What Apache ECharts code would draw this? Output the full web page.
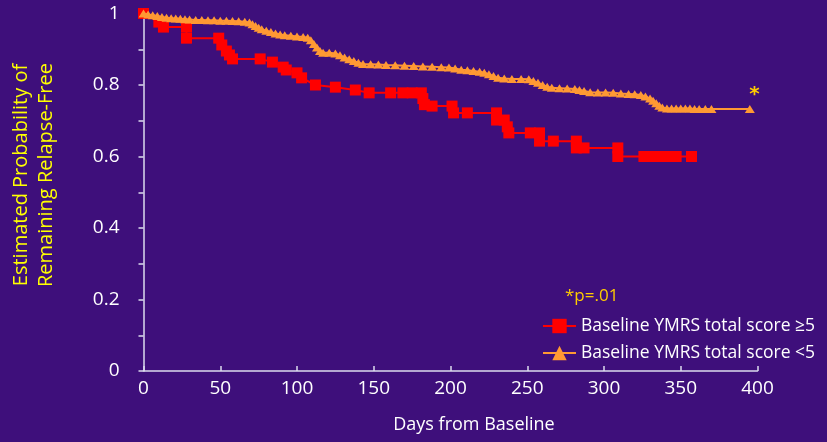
<!DOCTYPE html>
<html>
<head>
<meta charset="utf-8">
<title>Relapse-free probability by baseline YMRS score</title>
<script src="https://cdn.jsdelivr.net/npm/echarts@6/dist/echarts.min.js"></script>
<style>
  html, body { margin: 0; padding: 0; background: #3e0f7b; }
  #chart { width: 827px; height: 442px; }
</style>
</head>
<body>
<div id="chart"></div>
<script>
// Kaplan-Meier estimates, baseline YMRS total score >= 5
const highDays = [0, 10, 13, 28, 28, 49, 51, 54, 56, 58, 76, 84, 91, 93, 100, 103, 112, 125, 138, 147,
  161, 169, 175, 181, 182, 183, 188, 201, 202, 211, 230, 230, 235, 237, 238, 252, 258, 258, 267, 282,
  282, 287, 309, 309, 326, 329, 332, 335, 338, 341, 344, 347, 357];
const highSurv = [1, 0.976, 0.962, 0.962, 0.931, 0.931, 0.912, 0.895, 0.884, 0.873, 0.873, 0.864, 0.85, 0.842, 0.834, 0.82, 0.80, 0.794, 0.786, 0.778,
  0.778, 0.778, 0.778, 0.778, 0.762, 0.745, 0.741, 0.741, 0.722, 0.722, 0.722, 0.702, 0.702, 0.683, 0.666, 0.666, 0.666, 0.643, 0.643, 0.643,
  0.624, 0.624, 0.624, 0.6, 0.6, 0.6, 0.6, 0.6, 0.6, 0.6, 0.6, 0.6, 0.6];

// Kaplan-Meier estimates, baseline YMRS total score < 5
const lowDays = [0, 3, 6, 9, 12, 15, 18, 21, 24, 27, 30, 34, 38, 42, 46, 50, 54, 58, 62, 66,
  69, 71, 73, 75, 77, 80, 83, 86, 89, 92, 96, 100, 104, 107, 109, 111, 113, 115, 117, 121,
  125, 128, 131, 134, 137, 140, 143, 148, 153, 158, 164, 170, 176, 182, 188, 194, 199, 203, 207, 211,
  215, 219, 222, 225, 228, 231, 235, 240, 246, 251, 254, 257, 260, 263, 266, 271, 276, 281, 284, 287,
  291, 296, 301, 306, 311, 316, 320, 324, 327, 330, 332, 334, 336, 338, 341, 344, 347, 350, 353, 356,
  359, 362, 366, 370, 395];
const lowSurv = [1, 0.997, 0.995, 0.993, 0.99, 0.988, 0.987, 0.986, 0.985, 0.984, 0.983, 0.982, 0.982, 0.981, 0.981, 0.98, 0.98, 0.979, 0.978, 0.977,
  0.975, 0.97, 0.965, 0.96, 0.956, 0.952, 0.948, 0.944, 0.941, 0.939, 0.938, 0.936, 0.934, 0.932, 0.925, 0.915, 0.905, 0.895, 0.89, 0.89,
  0.888, 0.883, 0.877, 0.872, 0.867, 0.862, 0.859, 0.858, 0.857, 0.856, 0.855, 0.854, 0.853, 0.852, 0.851, 0.85, 0.849, 0.846, 0.843, 0.841,
  0.839, 0.837, 0.834, 0.83, 0.825, 0.82, 0.818, 0.817, 0.817, 0.816, 0.811, 0.806, 0.8, 0.795, 0.792, 0.791, 0.79, 0.789, 0.786, 0.783,
  0.78, 0.779, 0.779, 0.778, 0.776, 0.775, 0.774, 0.772, 0.768, 0.762, 0.756, 0.749, 0.742, 0.737, 0.734, 0.734, 0.734, 0.734, 0.734, 0.734,
  0.733, 0.733, 0.733, 0.733, 0.733];

const seriesNames = ['Baseline YMRS total score \u22655', 'Baseline YMRS total score <5'];
const yTitle = 'Estimated Probability of\nRemaining Relapse-Free';
const xTitle = 'Days from Baseline';
const pValueNote = '*p=.01';
const significanceMark = '*';

const FONT = "'Comic Sans MS', 'Open Sans', sans-serif";
const AXIS_COLOR = '#dcdcee';
const RED = '#ff0000';
const ORANGE = '#ff9933';
const GOLD = '#ffcc00';

const zip = (xs, ys) => xs.map((x, i) => [x, ys[i]]);

const chart = echarts.init(document.getElementById('chart'), null, { renderer: 'canvas' });

chart.setOption({
  backgroundColor: '#3e0f7b',
  animation: false,
  grid: { left: 143.5, right: 69.5, top: 13.5, bottom: 71, containLabel: false },
  xAxis: {
    type: 'value',
    min: 0, max: 400, interval: 50,
    axisLine: { show: true, onZero: false, lineStyle: { color: AXIS_COLOR, width: 1.5 } },
    axisTick: { show: true, inside: true, length: 5, lineStyle: { color: AXIS_COLOR, width: 1.5 } },
    axisLabel: { color: '#ffffff', fontFamily: FONT, fontSize: 19, margin: 8 },
    splitLine: { show: false }
  },
  yAxis: {
    type: 'value',
    min: 0, max: 1, interval: 0.2,
    axisLine: { show: true, onZero: false, lineStyle: { color: AXIS_COLOR, width: 1.5 } },
    axisTick: { show: true, inside: false, length: 5, lineStyle: { color: AXIS_COLOR, width: 1.5 } },
    minorTick: { show: true, splitNumber: 2, length: 5, lineStyle: { color: AXIS_COLOR, width: 1.5 } },
    axisLabel: { color: '#ffffff', fontFamily: FONT, fontSize: 19, margin: 24 },
    splitLine: { show: false }
  },
  legend: {
    left: 537, top: 312,
    orient: 'vertical',
    itemGap: 9,
    itemWidth: 33, itemHeight: 18,
    selectedMode: false,
    textStyle: { color: '#ffffff', fontFamily: FONT, fontSize: 17.5 },
    data: seriesNames
  },
  series: [
    {
      name: seriesNames[0],
      type: 'line',
      data: zip(highDays, highSurv),
      symbol: 'rect',
      symbolSize: 11,
      itemStyle: { color: RED },
      lineStyle: { color: RED, width: 2 },
      z: 2
    },
    {
      name: seriesNames[1],
      type: 'line',
      data: zip(lowDays, lowSurv),
      symbol: 'triangle',
      symbolSize: [10, 8],
      itemStyle: { color: ORANGE },
      lineStyle: { color: ORANGE, width: 2 },
      z: 3,
      markPoint: {
        symbol: 'circle',
        symbolSize: 0,
        silent: true,
        data: [{ coord: [398, 0.772] }],
        label: {
          show: true,
          position: 'inside',
          formatter: significanceMark,
          color: GOLD,
          fontFamily: 'DejaVu Sans',
          fontSize: 20,
          fontWeight: 'bold'
        }
      }
    }
  ],
  graphic: [
    {
      type: 'text',
      x: 34, y: 175,
      rotation: Math.PI / 2,
      style: {
        text: yTitle,
        fill: '#ffff00',
        font: '20px ' + FONT,
        align: 'center',
        verticalAlign: 'middle',
        lineHeight: 25
      }
    },
    {
      type: 'text',
      x: 474, y: 425,
      style: {
        text: xTitle,
        fill: '#ffffff',
        font: '18px ' + FONT,
        align: 'center',
        verticalAlign: 'middle'
      }
    },
    {
      type: 'text',
      x: 565, y: 296,
      style: {
        text: pValueNote,
        fill: GOLD,
        font: '17px ' + FONT,
        align: 'left',
        verticalAlign: 'middle'
      }
    }
  ]
});
</script>
</body>
</html>
